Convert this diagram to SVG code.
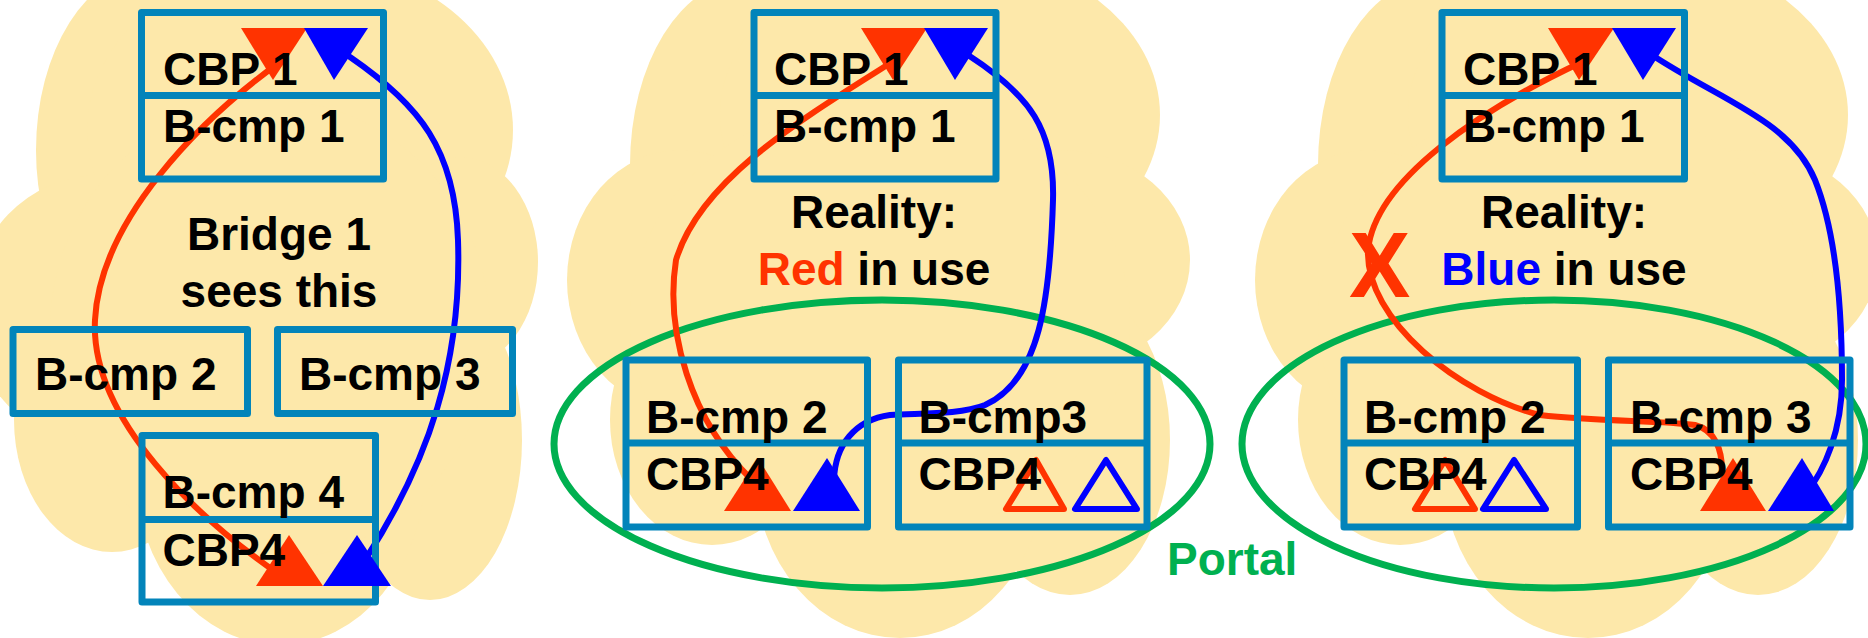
<svg xmlns="http://www.w3.org/2000/svg" xmlns:xlink="http://www.w3.org/1999/xlink" width="1868" height="638" viewBox="0 0 1868 638">
<style>
.cl{fill:#FDE8AA}
.box{fill:none;stroke:#0284BA;stroke-width:7;stroke-linejoin:round}
.t{font-family:"Liberation Sans",Arial,sans-serif;font-weight:bold;font-size:46px;fill:#000}
.c{text-anchor:middle}
.red{fill:#FF3300}
.blue{fill:#0000FF}
.rl{fill:none;stroke:#FF3300;stroke-width:6;stroke-linecap:round}
.bl{fill:none;stroke:#0000FF;stroke-width:6;stroke-linecap:round}
.ro{fill:none;stroke:#FF3300;stroke-width:6;stroke-linejoin:round}
.bo{fill:none;stroke:#0000FF;stroke-width:6;stroke-linejoin:round}
.portal{fill:none;stroke:#00B050;stroke-width:7}
</style>
<defs>
<g id="cloud">
<ellipse class="cl" cx="745" cy="165" rx="115" ry="185"/>
<ellipse class="cl" cx="940" cy="115" rx="220" ry="165"/>
<ellipse class="cl" cx="1060" cy="260" rx="130" ry="110"/>
<ellipse class="cl" cx="1070" cy="440" rx="100" ry="155"/>
<ellipse class="cl" cx="900" cy="470" rx="145" ry="168"/>
<ellipse class="cl" cx="680" cy="280" rx="113" ry="130"/>
<ellipse class="cl" cx="712" cy="420" rx="102" ry="125"/>
<ellipse class="cl" cx="880" cy="320" rx="250" ry="220"/>
</g>
</defs>
<g id="clouds">
<g id="cloud-1">
<ellipse class="cl" cx="150" cy="150" rx="114" ry="180"/>
<ellipse class="cl" cx="300" cy="130" rx="213" ry="170"/>
<ellipse class="cl" cx="460" cy="262" rx="78" ry="105"/>
<ellipse class="cl" cx="430" cy="440" rx="92" ry="160"/>
<ellipse class="cl" cx="280" cy="470" rx="145" ry="175"/>
<ellipse class="cl" cx="100" cy="310" rx="130" ry="135"/>
<ellipse class="cl" cx="112" cy="420" rx="98" ry="132"/>
<ellipse class="cl" cx="270" cy="330" rx="220" ry="230"/>
</g>
<use id="cloud-2" xlink:href="#cloud"/>
<use id="cloud-3" xlink:href="#cloud" transform="translate(688 0)"/>
</g>
<g id="portal-ellipses">
<ellipse class="portal" cx="882" cy="444" rx="328" ry="144"/>
<ellipse class="portal" cx="1554" cy="444" rx="312" ry="144"/>
</g>
<g id="connectors">
<path class="rl" d="M280 62 C200 120 100 220 95 320 C90 420 200 520 280 575"/>
<path class="bl" d="M350 57 C420 105 455 150 458 240 C462 360 430 460 365 560"/>
<path class="rl" d="M892 62 C800 120 700 180 676 260 C665 330 690 420 752 480"/>
<path class="bl" d="M968 55 C1030 95 1055 130 1053 200 C1050 300 1040 380 985 405 C960 415 920 413 890 415 C855 420 835 445 834 480"/>
<path class="rl" d="M1582 62 C1480 110 1375 180 1368 250 C1365 320 1460 395 1540 415 C1600 422 1660 420 1695 425 C1715 430 1722 450 1722 470"/>
<path class="bl" d="M1652 55 C1720 100 1790 120 1815 180 C1835 230 1842 300 1842 380 C1842 430 1825 470 1805 495"/>
</g>
<g id="p1-cbp1">
<rect class="box" x="141.5" y="12.5" width="242" height="166.5"/>
<line class="box" x1="141.5" y1="95.5" x2="383.5" y2="95.5"/>
<polygon class="red" points="241,28 307,28 273,80"/>
<polygon class="blue" points="304,28 368,28 334,80"/>
<text class="t" x="163" y="85">CBP 1</text>
<text class="t" x="163" y="142">B-cmp 1</text>
</g>
<g id="p1-label">
<text class="t c" x="279" y="250">Bridge 1</text>
<text class="t c" x="279" y="307">sees this</text>
</g>
<g id="p1-bcmp2">
<rect class="box" x="13" y="329.5" width="234.5" height="84"/>
<text class="t" x="35" y="390">B-cmp 2</text>
</g>
<g id="p1-bcmp3">
<rect class="box" x="277.5" y="329.5" width="235" height="84"/>
<text class="t" x="299" y="390">B-cmp 3</text>
</g>
<g id="p1-bcmp4">
<rect class="box" x="142" y="435.5" width="233.5" height="166.5"/>
<line class="box" x1="142" y1="519.5" x2="375.5" y2="519.5"/>
<polygon class="red" points="256,586 323,586 289,535"/>
<polygon class="blue" points="323,586 391,586 357,535"/>
<text class="t" x="162.5" y="508">B-cmp 4</text>
<text class="t" x="162.5" y="566">CBP4</text>
</g>
<g id="p2-cbp1">
<rect class="box" x="754" y="12.5" width="242" height="166.5"/>
<line class="box" x1="754" y1="95.5" x2="996" y2="95.5"/>
<polygon class="red" points="861,28 927,28 893,80"/>
<polygon class="blue" points="924,28 988,28 955,80"/>
<text class="t" x="774" y="85">CBP 1</text>
<text class="t" x="774" y="142">B-cmp 1</text>
</g>
<g id="p2-label">
<text class="t c" x="874" y="228">Reality:</text>
<text class="t c" x="874" y="285"><tspan class="red">Red</tspan> in use</text>
</g>
<g id="p2-bcmp2">
<rect class="box" x="626" y="360" width="241.5" height="167"/>
<line class="box" x1="626" y1="443" x2="867.5" y2="443"/>
<polygon class="red" points="724,511 791,511 758,458"/>
<polygon class="blue" points="793,511 860,511 827,458"/>
<text class="t" x="646" y="433">B-cmp 2</text>
<text class="t" x="646" y="490">CBP4</text>
</g>
<g id="p2-bcmp3">
<rect class="box" x="898.5" y="360" width="248.5" height="167"/>
<line class="box" x1="898.5" y1="443" x2="1147" y2="443"/>
<polygon class="ro" points="1006,509 1064,509 1036,460"/>
<polygon class="bo" points="1075,509 1137,509 1106,460"/>
<text class="t" x="918.5" y="433">B-cmp3</text>
<text class="t" x="918.5" y="490">CBP4</text>
</g>
<g id="p3-cbp1">
<rect class="box" x="1442" y="12.5" width="242.5" height="166.5"/>
<line class="box" x1="1442" y1="95.5" x2="1684.5" y2="95.5"/>
<polygon class="red" points="1548,28 1614,28 1579,80"/>
<polygon class="blue" points="1612,28 1676,28 1643,80"/>
<text class="t" x="1463" y="85">CBP 1</text>
<text class="t" x="1463" y="142">B-cmp 1</text>
</g>
<g id="p3-label">
<text class="t c" x="1564" y="228">Reality:</text>
<text class="t c" x="1564" y="285"><tspan class="blue">Blue</tspan> in use</text>
<text class="t red" x="1349" y="297" style="font-size:92px">X</text>
</g>
<g id="p3-bcmp2">
<rect class="box" x="1344" y="360" width="233.5" height="167"/>
<line class="box" x1="1344" y1="443" x2="1577.5" y2="443"/>
<polygon class="ro" points="1415,509 1475,509 1445,460"/>
<polygon class="bo" points="1483,509 1546,509 1514,460"/>
<text class="t" x="1364" y="433">B-cmp 2</text>
<text class="t" x="1364" y="490">CBP4</text>
</g>
<g id="p3-bcmp3">
<rect class="box" x="1608.5" y="360" width="241.5" height="167"/>
<line class="box" x1="1608.5" y1="443" x2="1850" y2="443"/>
<polygon class="red" points="1700,511 1766,511 1733,458"/>
<polygon class="blue" points="1768,511 1834,511 1802,458"/>
<text class="t" x="1630" y="433">B-cmp 3</text>
<text class="t" x="1630" y="490">CBP4</text>
</g>
<g id="portal-label">
<text class="t" x="1167" y="575" style="fill:#00B050">Portal</text>
</g>
</svg>
